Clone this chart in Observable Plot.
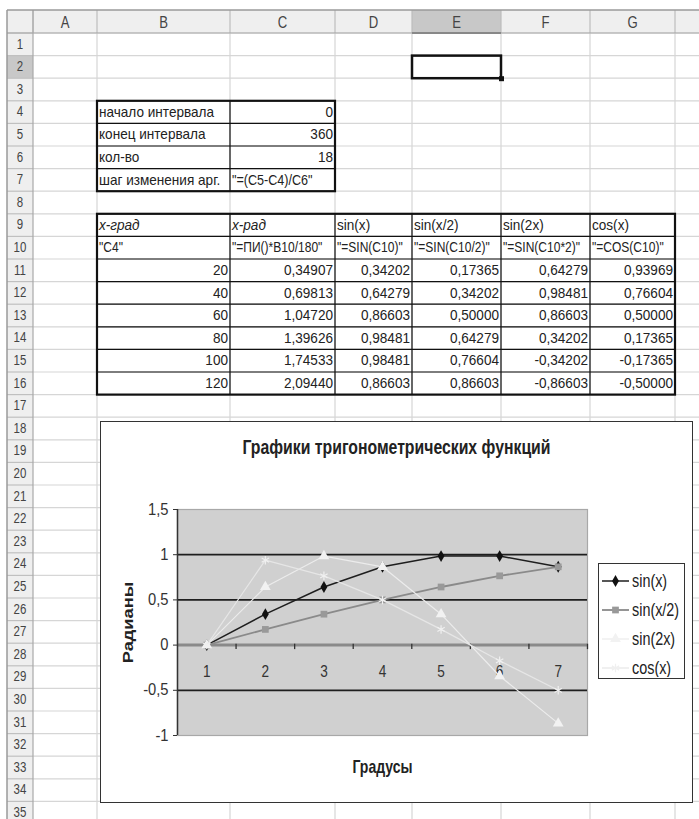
<!DOCTYPE html>
<html><head><meta charset="utf-8">
<script src="https://cdn.jsdelivr.net/npm/d3@7"></script>
<script src="https://cdn.jsdelivr.net/npm/@observablehq/plot@0.6"></script>
<style>
body{margin:0;background:#fff;}
#page{position:relative;width:699px;height:819px;overflow:hidden;background:#fff;}
#sheet{position:absolute;left:0;top:0;}
#chartbox{position:absolute;left:100px;top:421px;width:593px;height:382px;border:1.5px solid #333;box-sizing:border-box;background:#fff;}
#plot{position:absolute;left:0;top:0;}
#legend{position:absolute;left:497px;top:141px;width:87px;height:116px;border:1.5px solid #333;box-sizing:border-box;background:#fff;}
</style></head>
<body>
<div id="page">
  <svg id="sheet" width="699" height="819"></svg>
  <div id="chartbox"><div id="plot"></div><div id="legend"></div></div>
</div>
<script>
// ---------- data ----------
const columnLetters = ["A","B","C","D","E","F","G",""];
const intervalLabels = ["начало интервала","конец интервала","кол-во","шаг изменения арг."];
const intervalValues = ["0","360","18","\"=(C5-C4)/C6\""];
const tableHeaders = ["x-град","x-рад","sin(x)","sin(x/2)","sin(2x)","cos(x)"];
const tableFormulas = ["\"C4\"","\"=ПИ()*B10/180\"","\"=SIN(C10)\"","\"=SIN(C10/2)\"","\"=SIN(C10*2)\"","\"=COS(C10)\""];
const degrees = [20,40,60,80,100,120];
const radians = [0.34907,0.69813,1.04720,1.39626,1.74533,2.09440];
const sinX = [0.34202,0.64279,0.86603,0.98481,0.98481,0.86603];
const sinHalfX = [0.17365,0.34202,0.50000,0.64279,0.76604,0.86603];
const sinDoubleX = [0.64279,0.98481,0.86603,0.34202,-0.34202,-0.86603];
const cosX = [0.93969,0.76604,0.50000,0.17365,-0.17365,-0.50000];
const formulaRowAsNumber = 0; // text row 10 is plotted as 0
const categories = [1,2,3,4,5,6,7];
const yTicks = [-1,-0.5,0,0.5,1,1.5];
const chartTitle = "Графики тригонометрических функций";
const yLabel = "Радианы";
const xLabel = "Градусы";

// ---------- sheet ----------
const colEdges = [7,33,97,230,335,412,501,590,675,760];
const RH = 22.6;
const rowTop = i => 33 + (i - 1) * RH;
const svg = d3.select("#sheet");
const FONT = "'Liberation Sans',Arial,sans-serif";

svg.append("rect").attr("x",7).attr("y",10).attr("width",692).attr("height",23).attr("fill","#efefef");
svg.append("rect").attr("x",7).attr("y",33).attr("width",26).attr("height",800).attr("fill","#efefef");
svg.append("rect").attr("x",colEdges[5]).attr("y",10).attr("width",colEdges[6]-colEdges[5]).attr("height",23).attr("fill","#c8c8c8");
svg.append("rect").attr("x",7).attr("y",rowTop(2)).attr("width",26).attr("height",RH).attr("fill","#c8c8c8");

for (let i = 1; i <= 37; i++) {
  svg.append("line").attr("x1",33).attr("x2",699).attr("y1",rowTop(i)).attr("y2",rowTop(i)).attr("stroke","#d6d6d6").attr("stroke-width",1.2);
  svg.append("line").attr("x1",7).attr("x2",33).attr("y1",rowTop(i)).attr("y2",rowTop(i)).attr("stroke","#c0c0c0").attr("stroke-width",1.2);
}
colEdges.slice(2).forEach(x => {
  svg.append("line").attr("x1",x).attr("x2",x).attr("y1",33).attr("y2",819).attr("stroke","#d6d6d6").attr("stroke-width",1.2);
});
colEdges.slice(1).forEach(x => {
  svg.append("line").attr("x1",x).attr("x2",x).attr("y1",10).attr("y2",33).attr("stroke","#bcbcbc").attr("stroke-width",1.2);
});
svg.append("line").attr("x1",33).attr("x2",33).attr("y1",10).attr("y2",819).attr("stroke","#a8a8a8").attr("stroke-width",1.2);
svg.append("line").attr("x1",7).attr("x2",699).attr("y1",33).attr("y2",33).attr("stroke","#a8a8a8").attr("stroke-width",1.2);
svg.append("line").attr("x1",7).attr("x2",699).attr("y1",10).attr("y2",10).attr("stroke","#9a9a9a").attr("stroke-width",1.5);
svg.append("line").attr("x1",7).attr("x2",7).attr("y1",10).attr("y2",819).attr("stroke","#9a9a9a").attr("stroke-width",1.5);
svg.append("line").attr("x1",colEdges[5]).attr("x2",colEdges[6]).attr("y1",33).attr("y2",33).attr("stroke","#888").attr("stroke-width",2);

function sheetText(x, y, str, opts = {}) {
  const sx = opts.sx ?? 0.97;
  const t = svg.append("text")
    .attr("transform", `translate(${x},${y}) scale(${sx},1)`)
    .attr("font-family", FONT)
    .attr("font-size", opts.size ?? 14)
    .attr("fill", opts.fill ?? "#222")
    .attr("text-anchor", opts.anchor ?? "start")
    .text(str);
  if (opts.italic) t.attr("font-style","italic");
}
columnLetters.forEach((c, i) => {
  if (!c) return;
  sheetText((colEdges[i+1] + colEdges[i+2]) / 2, 27.5, c, {anchor:"middle", size:16, fill:"#444", sx:0.82});
});
for (let i = 1; i <= 35; i++) {
  sheetText(20, rowTop(i) + 15.5, String(i), {anchor:"middle", size:14, fill:"#444", sx:0.82});
}
const cellL = (col, row, str, o={}) => sheetText(colEdges[col+1] + 2, rowTop(row) + 16, str, o);
const cellR = (col, row, str, o={}) => sheetText(colEdges[col+2] - 2, rowTop(row) + 16, str, Object.assign({anchor:"end"}, o));
const fmt = v => v.toFixed(5).replace(".", ",");

intervalLabels.forEach((s, i) => cellL(1, 4 + i, s));
intervalValues.forEach((s, i) => (i === 3 ? cellL : cellR)(2, 4 + i, s, i === 3 ? {sx:0.9} : {}));
tableHeaders.forEach((s, i) => cellL(1 + i, 9, s, {italic: i < 2}));
tableFormulas.forEach((s, i) => cellL(1 + i, 10, s, {sx: 0.86}));
degrees.forEach((d, r) => {
  cellR(1, 11 + r, String(d));
  cellR(2, 11 + r, fmt(radians[r]));
  cellR(3, 11 + r, fmt(sinX[r]));
  cellR(4, 11 + r, fmt(sinHalfX[r]));
  cellR(5, 11 + r, fmt(sinDoubleX[r]));
  cellR(6, 11 + r, fmt(cosX[r]));
});

function tableBorders(c0, c1, r0, r1) {
  const x0 = colEdges[c0 + 1], x1 = colEdges[c1 + 2], y0 = rowTop(r0), y1 = rowTop(r1 + 1);
  for (let r = r0 + 1; r <= r1; r++)
    svg.append("line").attr("x1",x0).attr("x2",x1).attr("y1",rowTop(r)).attr("y2",rowTop(r)).attr("stroke","#111").attr("stroke-width",1.2);
  for (let c = c0 + 1; c <= c1; c++)
    svg.append("line").attr("x1",colEdges[c+1]).attr("x2",colEdges[c+1]).attr("y1",y0).attr("y2",y1).attr("stroke","#111").attr("stroke-width",1.2);
  svg.append("rect").attr("x",x0).attr("y",y0).attr("width",x1-x0).attr("height",y1-y0).attr("fill","none").attr("stroke","#111").attr("stroke-width",2.2);
}
tableBorders(1, 2, 4, 7);
tableBorders(1, 6, 9, 16);
svg.append("rect").attr("x",colEdges[5]).attr("y",rowTop(2)).attr("width",colEdges[6]-colEdges[5]).attr("height",RH).attr("fill","none").attr("stroke","#111").attr("stroke-width",2.5);
svg.append("rect").attr("x",colEdges[6]-2).attr("y",rowTop(3)-2).attr("width",5).attr("height",5).attr("fill","#111");

// ---------- chart ----------
const series = [
  {name:"sin(x)",   values:[formulaRowAsNumber, ...sinX],       stroke:"#1e1e1e", width:1.5, symbol:"diamond",  fill:"#111",    r:3.6},
  {name:"sin(x/2)", values:[formulaRowAsNumber, ...sinHalfX],   stroke:"#8a8a8a", width:1.8, symbol:"square",   fill:"#999",    r:3.8},
  {name:"sin(2x)",  values:[formulaRowAsNumber, ...sinDoubleX], stroke:"#ececec", width:1.2, symbol:"triangle", fill:"#f2f2f2", r:4},
  {name:"cos(x)",   values:[formulaRowAsNumber, ...cosX],       stroke:"#e6e6e6", width:1.2, symbol:"asterisk", fill:"none",    r:4}
];
const rows = series.map(s => s.values.map((v, i) => ({x: categories[i], y: v, s: s.name})));
const boundaries = categories.map(c => c + 0.5);

const lineMarks = series.flatMap((s, k) => [
  Plot.line(rows[k], {x:"x", y:"y", stroke:s.stroke, strokeWidth:s.width}),
  s.symbol === "asterisk"
    ? Plot.dot(rows[k], {x:"x", y:"y", symbol:"asterisk", stroke:"#f0f0f0", r:s.r, strokeWidth:1.2})
    : Plot.dot(rows[k], {x:"x", y:"y", symbol:s.symbol, fill:s.fill, r:s.r})
]);

const plot = Plot.plot({
  width: 590, height: 379,
  marginLeft: 76, marginRight: 104, marginTop: 87, marginBottom: 66,
  style: {fontFamily: "'Liberation Sans',Arial,sans-serif", background: "transparent", overflow: "visible"},
  x: {domain: [0.5, 7.5], axis: null},
  y: {domain: [-1, 1.5], axis: null},
  marks: [
    Plot.frame({fill: "#d0d0d0", stroke: "#a8a8a8", strokeWidth: 1.2}),
    Plot.ruleY([1, 0.5, -0.5], {stroke: "#1e1e1e", strokeWidth: 1.8}),
    Plot.ruleY([0], {stroke: "#8a8a8a", strokeWidth: 3}),
    Plot.ruleX(boundaries, {y1: 0.01, y2: -0.05, stroke: "#333", strokeWidth: 1.3}),
    Plot.ruleX([0.5], {stroke: "#333", strokeWidth: 1.5}),
    Plot.axisY({ticks: yTicks, tickFormat: d => String(d).replace(".", ","), tickSize: 4, tickPadding: 5, fontSize: 16, color: "#333", label: null}),
    Plot.text(categories, {x: d => d, y: 0, dy: 27, text: d => String(d), fontSize: 16, fill: "#333"}),
    ...lineMarks,
    Plot.text([yLabel], {frameAnchor: "left", dx: -49, rotate: -90, textAnchor: "middle", lineAnchor: "middle", text: d => d, fontWeight: "bold", fontSize: 14, fill: "#222"}),
    Plot.text([xLabel], {frameAnchor: "bottom", dy: 32, textAnchor: "middle", lineAnchor: "middle", text: d => d, fontWeight: "bold", fontSize: 18, fill: "#222"}),
    Plot.text([chartTitle], {frameAnchor: "top", dy: -62, dx: 14, textAnchor: "middle", lineAnchor: "middle", text: d => d, fontWeight: "bold", fontSize: 20, fill: "#222"})
  ]
});
document.getElementById("plot").appendChild(plot);

// the reference picture is stretched vertically: condense texts horizontally
d3.select(plot).selectAll("text").each(function() {
  const s = this.textContent;
  const inAxis = this.closest("g[aria-label]")?.getAttribute("aria-label")?.includes("axis");
  let k = null;
  if (s === chartTitle) k = "scale(0.79,1)";
  else if (s === xLabel) k = "scale(0.78,1)";
  else if (s === yLabel) k = "scale(1.3,1)";
  else if (inAxis) k = "scale(0.92,1)";
  else if (/^\d$/.test(s)) k = "scale(0.85,1)";
  if (k) {
    const t = this.getAttribute("transform");
    if (t) this.setAttribute("transform", t + " " + k);
    else {
      const x = this.getAttribute("x") || 0, y = this.getAttribute("y") || 0;
      this.setAttribute("transform", `translate(${x},${y}) ${k}`);
      this.removeAttribute("x"); this.removeAttribute("y");
    }
  }
});

// legend
const lg = d3.select("#legend").append("svg").attr("width", 84).attr("height", 113);
const symbolMap = {diamond: d3.symbolDiamond, square: d3.symbolSquare, triangle: d3.symbolTriangle, asterisk: d3.symbolAsterisk};
series.forEach((s, i) => {
  const y = 17 + i * 29;
  lg.append("line").attr("x1", 3).attr("x2", 30).attr("y1", y).attr("y2", y).attr("stroke", s.stroke).attr("stroke-width", s.width);
  const area = Math.PI * s.r * s.r;
  const p = lg.append("path").attr("transform", `translate(16.5,${y})`).attr("d", d3.symbol(symbolMap[s.symbol], area)());
  if (s.symbol === "asterisk") p.attr("fill", "none").attr("stroke", "#f0f0f0").attr("stroke-width", 1.2);
  else p.attr("fill", s.fill);
  lg.append("text").attr("transform", `translate(33,${y}) scale(0.8,1)`).attr("dy", "0.35em")
    .attr("font-family", "'Liberation Sans',Arial,sans-serif").attr("font-size", 18).attr("fill", "#222").text(s.name);
});
</script>
</body></html>
